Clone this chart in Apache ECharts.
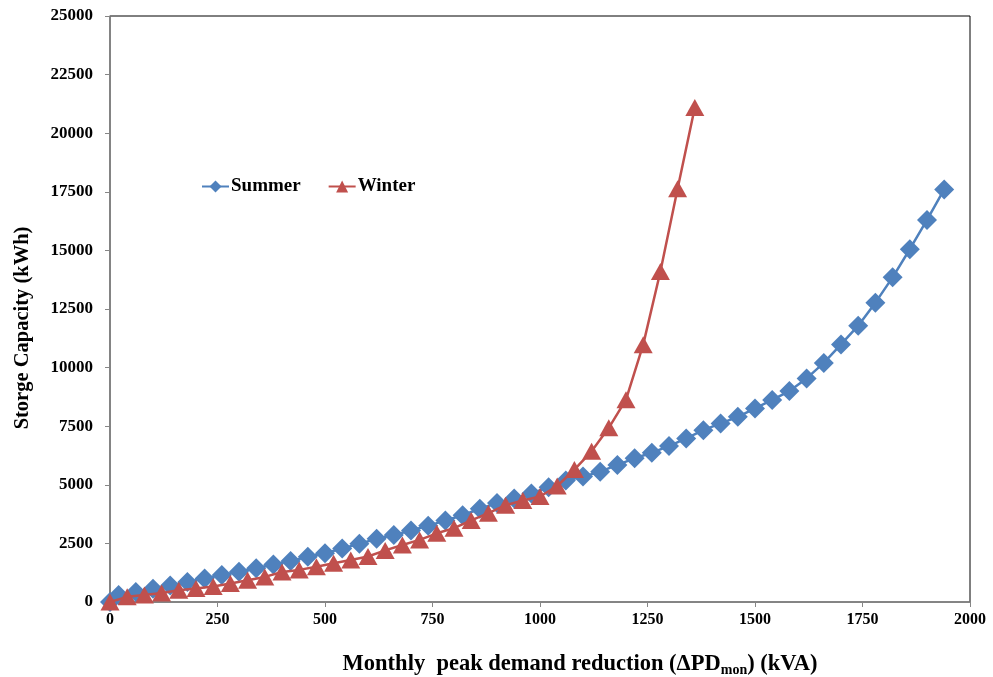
<!DOCTYPE html>
<html>
<head>
<meta charset="utf-8">
<script src="https://cdn.jsdelivr.net/npm/echarts@6/dist/echarts.min.js"></script>
<style>
  html, body { margin: 0; padding: 0; background: #fff; }
  #chart { width: 993px; height: 677px; }
</style>
</head>
<body>
<div id="chart"></div>
<script>
// data
var summerX = [0, 20, 60, 100, 140, 180, 220, 260, 300, 340, 380, 420, 460, 500, 540, 580, 620, 660, 700, 740,
  780, 820, 860, 900, 940, 980, 1020, 1060, 1100, 1140, 1180, 1220, 1260, 1300, 1340, 1380, 1420, 1460, 1500,
  1540, 1580, 1620, 1660, 1700, 1740, 1780, 1820, 1860, 1900, 1940];
var summerY = [0, 300, 430, 560, 700, 850, 1000, 1150, 1290, 1440, 1600, 1750, 1930, 2080, 2280, 2480, 2700, 2860,
  3050, 3250, 3480, 3700, 3980, 4220, 4420, 4630, 4900, 5180, 5350, 5560, 5850, 6130, 6370, 6650, 6980, 7330,
  7620, 7900, 8260, 8620, 9000, 9540, 10200, 10990, 11790, 12770, 13850, 15050, 16300, 17600];

var winterX = [0, 40, 80, 120, 160, 200, 240, 280, 320, 360, 400, 440, 480, 520, 560, 600, 640, 680, 720, 760,
  800, 840, 880, 920, 960, 1000, 1040, 1080, 1120, 1160, 1200, 1240, 1280, 1320, 1360];
var winterY = [0, 220, 300, 380, 500, 580, 660, 790, 930, 1070, 1280, 1370, 1500, 1650, 1790, 1940, 2200, 2430,
  2650, 2930, 3150, 3480, 3790, 4130, 4330, 4500, 4950, 5650, 6430, 7430, 8630, 10980, 14100, 17630, 21100];

var xTicks = [0, 250, 500, 750, 1000, 1250, 1500, 1750, 2000];
var yTicks = [0, 2500, 5000, 7500, 10000, 12500, 15000, 17500, 20000, 22500, 25000];

var serif = "'Times New Roman', 'Liberation Serif', serif";

function pairs(xs, ys) {
  var out = [];
  for (var i = 0; i < xs.length; i++) out.push([xs[i], ys[i]]);
  return out;
}

var myChart = echarts.init(document.getElementById('chart'));
var options = {
  animation: false,
  backgroundColor: '#fff',
  textStyle: { fontFamily: serif },
  grid: {
    left: 110, right: 23, top: 16, bottom: 75,
    outerBoundsMode: 'none', containLabel: false,
    show: true, borderColor: '#000', borderWidth: 1
  },
  legend: {
    left: 196, top: 172,
    itemWidth: 27, itemHeight: 15, itemGap: 27,
    textStyle: { fontFamily: serif, fontWeight: 'bold', fontSize: 19, color: '#000', padding: [0, 0, 0, -3] },
    data: ['Summer', 'Winter']
  },
  xAxis: {
    type: 'value',
    min: xTicks[0], max: xTicks[xTicks.length - 1], interval: 250,
    axisLine: { show: true, onZero: false, lineStyle: { color: '#868686', width: 1.5 } },
    axisTick: { show: true, inside: false, length: 5, lineStyle: { color: '#868686' } },
    splitLine: { show: false },
    axisLabel: { color: '#000', fontFamily: serif, fontWeight: 'bold', fontSize: 16, margin: 10,
      formatter: function(v) { return String(v); } },
    name: 'Monthly  peak demand reduction (ΔPD{sub|mon}) (kVA)',
    nameLocation: 'middle', nameGap: 49,
    nameTextStyle: {
      color: '#000', fontFamily: serif, fontWeight: 'bold', fontSize: 22.5,
      padding: [0, 0, 0, 80],
      rich: { sub: { fontFamily: serif, fontWeight: 'bold', fontSize: 14, color: '#000', padding: [12, 0, 0, 0] } }
    }
  },
  yAxis: {
    type: 'value',
    min: yTicks[0], max: yTicks[yTicks.length - 1], interval: 2500,
    axisLine: { show: true, lineStyle: { color: '#868686', width: 1.5 } },
    axisTick: { show: true, inside: false, length: 5, lineStyle: { color: '#868686' } },
    splitLine: { show: false },
    axisLabel: { color: '#000', fontFamily: serif, fontWeight: 'bold', fontSize: 17, margin: 17,
      formatter: function(v) { return String(v); } },
    name: 'Storge Capacity (kWh)',
    nameLocation: 'middle', nameGap: 77, nameRotate: 90,
    nameTextStyle: { color: '#000', fontFamily: serif, fontWeight: 'bold', fontSize: 20.5, padding: [0, 38, 0, 0] }
  },
  series: [
    {
      name: 'Summer', type: 'line',
      data: pairs(summerX, summerY),
      symbol: 'diamond', symbolSize: [20, 20],
      lineStyle: { color: '#4F81BD', width: 2.5 },
      itemStyle: { color: '#4F81BD' },
      z: 2
    },
    {
      name: 'Winter', type: 'line',
      data: pairs(winterX, winterY),
      symbol: 'triangle', symbolSize: [19, 17],
      lineStyle: { color: '#C0504D', width: 2.5 },
      itemStyle: { color: '#C0504D' },
      z: 3
    }
  ]
};
myChart.setOption(options, true);
</script>
</body>
</html>
